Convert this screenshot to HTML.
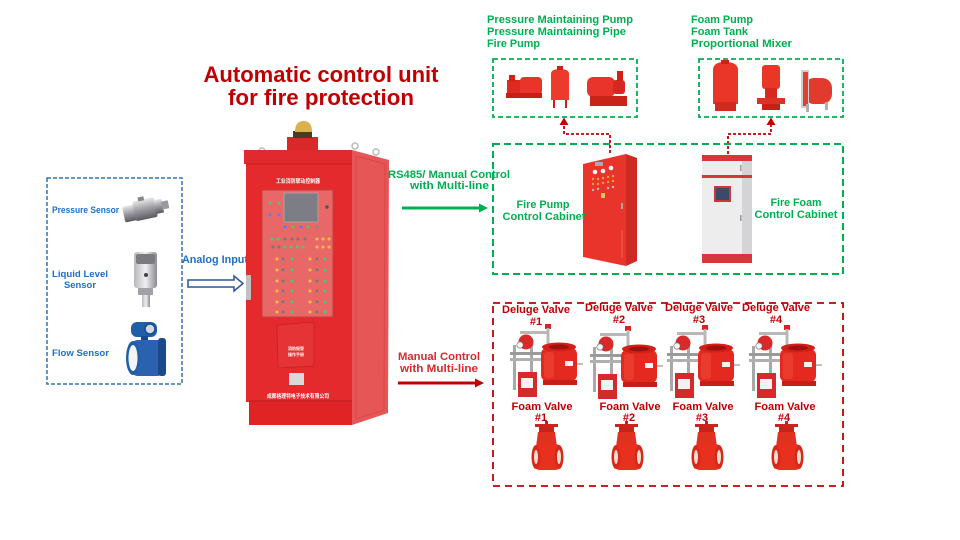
<!DOCTYPE html>
<html><head><meta charset="utf-8"><style>
html,body{margin:0;padding:0;background:#fff;}
svg{display:block;}
text{font-family:"Liberation Sans","Noto Sans CJK SC",sans-serif;font-weight:bold;}
</style></head><body>
<svg width="960" height="540" viewBox="0 0 960 540" xmlns="http://www.w3.org/2000/svg">
<defs>
  <linearGradient id="silver" x1="0" y1="0" x2="0" y2="1">
    <stop offset="0" stop-color="#e8e8ea"/><stop offset="0.5" stop-color="#9a9aa0"/><stop offset="1" stop-color="#5a5a60"/>
  </linearGradient>
  <linearGradient id="silverH" x1="0" y1="0" x2="1" y2="0">
    <stop offset="0" stop-color="#b8b8bc"/><stop offset="0.5" stop-color="#f0f0f2"/><stop offset="1" stop-color="#8a8a90"/>
  </linearGradient>
  <g id="deluge">
    <rect x="545" y="324" width="6" height="5" fill="#e02020"/>
    <rect x="546.5" y="328" width="3" height="21" fill="#b8b8b8"/>
    <rect x="520" y="331" width="28" height="3" fill="#b8b8b8"/>
    <rect x="513" y="345" width="3" height="45" fill="#a8a8a8"/>
    <rect x="530" y="345" width="3" height="30" fill="#a8a8a8"/>
    <circle cx="526" cy="342" r="7.5" fill="#d82a2a"/>
    <circle cx="520" cy="345" r="3.2" fill="#f4f4f4" stroke="#666" stroke-width="0.6"/>
    <rect x="510" y="352" width="31" height="3" fill="#9a9a9a"/>
    <rect x="510" y="358" width="31" height="3" fill="#b0b0b0"/>
    <rect x="518" y="372" width="19" height="25" fill="#d42a2a"/>
    <rect x="521" y="378" width="12" height="10" fill="#f2f2f2"/>
    <rect x="541" y="348" width="36" height="33" rx="6" fill="#e42a20"/>
    <rect x="544" y="352" width="10" height="26" rx="3" fill="#f04838" opacity="0.6"/>
    <ellipse cx="559" cy="347" rx="17" ry="4.5" fill="#d22018"/>
    <ellipse cx="559" cy="347" rx="10" ry="2.5" fill="#a01010"/>
    <rect x="543" y="380" width="34" height="5" fill="#c81e18"/>
    <rect x="565" y="361" width="8" height="5" fill="#f4f4f4"/>
    <rect x="577" y="363" width="6" height="2" fill="#c0c0c0"/>
  </g>
  <g id="foam">
    <rect x="545" y="421" width="3" height="4" fill="#c02020"/>
    <rect x="535" y="424" width="23" height="3" fill="#d02020"/>
    <rect x="539" y="427" width="15" height="5" fill="#c82418"/>
    <path d="M538 432 H555 L557 447 H536 Z" fill="#e03020"/>
    <rect x="533" y="444" width="29" height="26" rx="7" fill="#e8301f"/>
    <ellipse cx="536" cy="457" rx="4.5" ry="12" fill="#d82818"/>
    <ellipse cx="536" cy="457" rx="2" ry="7" fill="#f0dcd0"/>
    <ellipse cx="559" cy="457" rx="4.5" ry="12" fill="#d82818"/>
    <ellipse cx="559" cy="457" rx="2" ry="7" fill="#f0dcd0"/>
  </g>
</defs>

<!-- Title -->
<text x="321" y="82" font-size="22" fill="#c00000" text-anchor="middle" textLength="235" lengthAdjust="spacingAndGlyphs">Automatic control unit</text>
<text x="321" y="105" font-size="22" fill="#c00000" text-anchor="middle" textLength="186" lengthAdjust="spacingAndGlyphs">for fire protection</text>

<!-- Sensor box -->
<rect x="47" y="178" width="135" height="206" fill="none" stroke="#2e75b6" stroke-width="1.5" stroke-dasharray="4,2"/>
<text x="52" y="213" font-size="9" fill="#1f6fc4" textLength="67" lengthAdjust="spacingAndGlyphs">Pressure Sensor</text>
<text x="52" y="277" font-size="9.5" fill="#1f6fc4" textLength="56" lengthAdjust="spacingAndGlyphs">Liquid Level</text>
<text x="64" y="288" font-size="9.5" fill="#1f6fc4" textLength="32" lengthAdjust="spacingAndGlyphs">Sensor</text>
<text x="52" y="356" font-size="9.5" fill="#1f6fc4" textLength="57" lengthAdjust="spacingAndGlyphs">Flow Sensor</text>

<!-- pressure sensor -->
<g transform="rotate(-12 146 209)">
  <rect x="123" y="202" width="12" height="16" rx="2" fill="url(#silver)"/>
  <rect x="134" y="199" width="22" height="20" rx="2" fill="url(#silver)"/>
  <rect x="155" y="202" width="8" height="14" fill="url(#silver)"/>
  <rect x="162" y="205" width="7" height="8" fill="#9a9aa0"/>
  <rect x="140" y="196" width="6" height="4" fill="#888"/>
</g>
<!-- liquid level sensor -->
<rect x="134" y="252" width="23" height="36" rx="3" fill="url(#silverH)"/>
<rect x="136" y="254" width="19" height="10" rx="2" fill="#7a7a80"/>
<circle cx="146" cy="275" r="2" fill="#444"/>
<rect x="138" y="288" width="15" height="7" fill="#a0a0a6"/>
<rect x="142" y="295" width="8" height="12" fill="url(#silverH)"/>
<!-- flow sensor -->
<rect x="131" y="322" width="26" height="15" rx="6" fill="#1f5fa8"/>
<circle cx="150" cy="329" r="5" fill="#d0d8e0" stroke="#1a4a8a" stroke-width="1.5"/>
<rect x="141" y="336" width="7" height="6" fill="#1a4a8a"/>
<rect x="130" y="340" width="35" height="36" rx="8" fill="#2a62b0"/>
<rect x="158" y="338" width="8" height="38" rx="3" fill="#1a4a8a"/>
<ellipse cx="133" cy="358" rx="7" ry="17" fill="#1f5fa8"/>
<ellipse cx="133" cy="358" rx="4.5" ry="13" fill="#f4f4f4"/>

<!-- Analog input -->
<text x="182" y="263" font-size="11" fill="#1f6fc4" textLength="66" lengthAdjust="spacingAndGlyphs">Analog Input</text>
<polygon points="188,280 234,280 234,276 243,283.5 234,291 234,287 188,287" fill="#fff" stroke="#2f5597" stroke-width="1.5"/>

<!-- Main cabinet -->
<circle cx="262" cy="151" r="3" fill="none" stroke="#bbb" stroke-width="1.5"/>
<circle cx="355" cy="146" r="3" fill="none" stroke="#bbb" stroke-width="1.5"/>
<circle cx="376" cy="152" r="3" fill="none" stroke="#bbb" stroke-width="1.5"/>
<rect x="287" y="137" width="31" height="14" fill="#d82828"/>
<rect x="293" y="131" width="19" height="7" fill="#4a3a20"/>
<path d="M295 132 Q295 121 303.5 121 Q312 121 312 132 Z" fill="#d9b24a"/>
<path d="M352 150 L389 160 L388 413 L352 425 Z" fill="#e65656"/>
<path d="M356 156 L385 164 L384 410 L356 419 Z" fill="none" stroke="#d84848" stroke-width="1"/>
<rect x="246" y="150" width="106" height="252" fill="#e52a2e"/>
<rect x="244" y="150" width="108" height="14" fill="#e12a2d"/>
<line x1="246" y1="164" x2="352" y2="164" stroke="#c81e22" stroke-width="1"/>
<rect x="249" y="401" width="103" height="24" fill="#e02426"/>
<line x1="249" y1="401" x2="352" y2="401" stroke="#b81a1c" stroke-width="1"/>
<text x="298" y="183" font-size="5.5" fill="#fff" text-anchor="middle" textLength="44" lengthAdjust="spacingAndGlyphs">工业消防联动控制器</text>
<rect x="262" y="190" width="71" height="127" rx="2" fill="#e86868" stroke="#c84040" stroke-width="1"/>
<rect x="284" y="193" width="34" height="29" fill="#7d7d86" stroke="#aaa" stroke-width="0.8"/>
<circle cx="327" cy="207" r="1.8" fill="#555"/>
<g>
  <circle cx="270" cy="203" r="1.5" fill="#40d070"/><circle cx="279" cy="203" r="1.5" fill="#40d070"/>
  <circle cx="270" cy="215" r="1.5" fill="#4a80ff"/><circle cx="279" cy="215" r="1.5" fill="#4a80ff"/>
  <circle cx="285" cy="227" r="1.5" fill="#4a80ff"/><circle cx="293" cy="227" r="1.5" fill="#40d070"/><circle cx="301" cy="227" r="1.5" fill="#4a80ff"/><circle cx="308" cy="227" r="1.5" fill="#40d070"/><circle cx="317" cy="227" r="1.5" fill="#888"/>
  <circle cx="272" cy="239" r="1.5" fill="#40d070"/><circle cx="278" cy="239" r="1.5" fill="#40d070"/><circle cx="285" cy="239" r="1.5" fill="#777"/><circle cx="292" cy="239" r="1.5" fill="#777"/><circle cx="298" cy="239" r="1.5" fill="#777"/><circle cx="305" cy="239" r="1.5" fill="#777"/>
  <circle cx="317" cy="239" r="1.5" fill="#f0c040"/><circle cx="323" cy="239" r="1.5" fill="#f0c040"/><circle cx="329" cy="239" r="1.5" fill="#f0c040"/>
  <circle cx="273" cy="247" r="1.5" fill="#777"/><circle cx="279" cy="247" r="1.5" fill="#777"/><circle cx="285" cy="247" r="1.5" fill="#40d070"/><circle cx="291" cy="247" r="1.5" fill="#40d070"/><circle cx="297" cy="247" r="1.5" fill="#40d070"/><circle cx="303" cy="247" r="1.5" fill="#40d070"/>
  <circle cx="317" cy="247" r="1.5" fill="#f0c040"/><circle cx="323" cy="247" r="1.5" fill="#f0c040"/><circle cx="329" cy="247" r="1.5" fill="#f0c040"/>
</g>
<g id="ledrow">
  <circle cx="277" cy="259" r="1.5" fill="#f0c040"/><circle cx="283" cy="259" r="1.5" fill="#777"/><circle cx="292" cy="259" r="1.5" fill="#40d070"/>
  <circle cx="310" cy="259" r="1.5" fill="#f0c040"/><circle cx="317" cy="259" r="1.5" fill="#777"/><circle cx="325" cy="259" r="1.5" fill="#40d070"/>
</g>
<use href="#ledrow" y="11"/><use href="#ledrow" y="22"/><use href="#ledrow" y="32"/><use href="#ledrow" y="43"/><use href="#ledrow" y="53"/>
<rect x="246" y="275" width="5" height="25" rx="1" fill="#c0c0c0"/>
<path d="M277 325 L314 322 L314 366 L278 368 Z" fill="#e63436" stroke="#c82426" stroke-width="1"/>
<text x="296" y="350" font-size="4" fill="#fff" text-anchor="middle">消防报警</text>
<text x="296" y="356" font-size="4" fill="#fff" text-anchor="middle">操作手册</text>
<rect x="289" y="373" width="15" height="12" fill="#d9d9d9"/>
<text x="298" y="398" font-size="5.5" fill="#fff" text-anchor="middle" textLength="62" lengthAdjust="spacingAndGlyphs">成都格理特电子技术有限公司</text>

<!-- Green arrow + label -->
<text x="388" y="178" font-size="11" fill="#00b050" textLength="122" lengthAdjust="spacingAndGlyphs">RS485/ Manual Control</text>
<text x="410" y="189" font-size="11" fill="#00b050" textLength="79" lengthAdjust="spacingAndGlyphs">with Multi-line</text>
<line x1="402" y1="208" x2="481" y2="208" stroke="#00b050" stroke-width="3"/>
<polygon points="479,203.5 488,208 479,212.5" fill="#00b050"/>

<!-- Red arrow + label -->
<text x="398" y="360" font-size="11" fill="#d42b2b" textLength="82" lengthAdjust="spacingAndGlyphs">Manual Control</text>
<text x="400" y="372" font-size="11" fill="#d42b2b" textLength="78" lengthAdjust="spacingAndGlyphs">with Multi-line</text>
<line x1="398" y1="383" x2="477" y2="383" stroke="#c00000" stroke-width="3"/>
<polygon points="475,378.5 484,383 475,387.5" fill="#c00000"/>

<!-- Top green labels -->
<text x="487" y="23" font-size="11" fill="#00b050" textLength="146" lengthAdjust="spacingAndGlyphs">Pressure Maintaining Pump</text>
<text x="487" y="35" font-size="11" fill="#00b050" textLength="139" lengthAdjust="spacingAndGlyphs">Pressure Maintaining Pipe</text>
<text x="487" y="47" font-size="11" fill="#00b050" textLength="53" lengthAdjust="spacingAndGlyphs">Fire Pump</text>
<text x="691" y="23" font-size="11" fill="#00b050" textLength="62" lengthAdjust="spacingAndGlyphs">Foam Pump</text>
<text x="691" y="35" font-size="11" fill="#00b050" textLength="57" lengthAdjust="spacingAndGlyphs">Foam Tank</text>
<text x="691" y="47" font-size="11" fill="#00b050" textLength="101" lengthAdjust="spacingAndGlyphs">Proportional Mixer</text>

<!-- Top boxes -->
<rect x="493" y="59" width="144" height="58" fill="none" stroke="#00b050" stroke-width="1.8" stroke-dasharray="5,3"/>
<rect x="699" y="59" width="144" height="58" fill="none" stroke="#00b050" stroke-width="1.8" stroke-dasharray="5,3"/>
<!-- pumps box1 -->
<rect x="507" y="80" width="14" height="13" fill="#e02a20"/>
<rect x="509" y="75" width="6" height="6" fill="#d02018"/>
<rect x="520" y="77" width="22" height="18" rx="4" fill="#e8342a"/>
<rect x="506" y="93" width="36" height="5" fill="#c81e18"/>
<path d="M551 74 Q551 69 560 69 Q569 69 569 74 V100 H551 Z" fill="#ec3a2c"/>
<rect x="553" y="100" width="2" height="8" fill="#c82018"/><rect x="565" y="100" width="2" height="8" fill="#c82018"/>
<rect x="557" y="66" width="6" height="4" fill="#d02018"/>
<rect x="587" y="77" width="28" height="20" rx="6" fill="#e8342a"/>
<rect x="613" y="80" width="12" height="14" rx="3" fill="#d42820"/>
<rect x="617" y="71" width="6" height="10" fill="#d02018"/>
<rect x="590" y="96" width="37" height="10" fill="#c82418"/>
<!-- pumps box2 -->
<path d="M713 70 Q713 62 725 62 Q738 62 738 70 V104 H713 Z" fill="#ea3628"/>
<rect x="721" y="60" width="8" height="4" fill="#d02018"/>
<rect x="715" y="102" width="21" height="9" fill="#d42820"/>
<rect x="762" y="65" width="18" height="24" rx="3" fill="#ea3628"/>
<rect x="765" y="88" width="12" height="12" fill="#d42820"/>
<rect x="757" y="98" width="28" height="6" fill="#e03024"/>
<rect x="762" y="104" width="18" height="6" fill="#c82018"/>
<rect x="804" y="78" width="28" height="26" rx="10" fill="#e33a2e"/>
<rect x="801" y="70" width="8" height="38" fill="#cfcfcf"/>
<rect x="803" y="72" width="5" height="34" fill="#e04030"/>
<rect x="806" y="104" width="3" height="8" fill="#b0b0b0"/><rect x="825" y="102" width="3" height="8" fill="#b0b0b0"/>

<!-- red connectors -->
<path d="M610 153 V134 H564 V122" fill="none" stroke="#c00000" stroke-width="1.8" stroke-dasharray="3,2"/>
<polygon points="559.5,125 564,117.5 568.5,125" fill="#c00000"/>
<path d="M728 154 V134 H771 V122" fill="none" stroke="#c00000" stroke-width="1.8" stroke-dasharray="3,2"/>
<polygon points="766.5,125 771,117.5 775.5,125" fill="#c00000"/>

<!-- Green big box -->
<rect x="493" y="144" width="350" height="130" fill="none" stroke="#00b050" stroke-width="2" stroke-dasharray="7,4"/>

<!-- Fire pump cabinet -->
<path d="M626 154 L637 158 L637 261 L626 266 Z" fill="#cc2a22"/>
<path d="M583 164 L626 154 L626 266 L583 257 Z" fill="#e8342a"/>
<rect x="595" y="162" width="8" height="4" fill="#aaa"/>
<circle cx="595" cy="172" r="2.3" fill="#f4f4f4"/><circle cx="603" cy="171" r="2.3" fill="#f4f4f4"/><circle cx="611" cy="168" r="2.3" fill="#f4f4f4"/>
<g fill="#f0a040">
<circle cx="593" cy="179" r="1.2"/><circle cx="598" cy="179" r="1.2"/><circle cx="603" cy="178" r="1.2"/><circle cx="608" cy="177" r="1.2"/><circle cx="613" cy="176" r="1.2"/>
<circle cx="593" cy="184" r="1.2"/><circle cx="598" cy="184" r="1.2"/><circle cx="603" cy="183" r="1.2"/><circle cx="608" cy="182" r="1.2"/><circle cx="613" cy="181" r="1.2"/>
</g>
<g fill="#bbb"><circle cx="593" cy="190" r="1.2"/><circle cx="598" cy="189" r="1.2"/><circle cx="608" cy="188" r="1.2"/><circle cx="613" cy="187" r="1.2"/></g>
<rect x="601" y="193" width="4" height="5" fill="#f0c060"/>
<rect x="621" y="203" width="2" height="6" fill="#aaa"/>
<line x1="622" y1="230" x2="622" y2="258" stroke="#f06a5a" stroke-width="1"/>
<text x="543" y="208" font-size="11" fill="#00b050" text-anchor="middle" textLength="53" lengthAdjust="spacingAndGlyphs">Fire Pump</text>
<text x="544" y="220" font-size="11" fill="#00b050" text-anchor="middle" textLength="83" lengthAdjust="spacingAndGlyphs">Control Cabinet</text>

<!-- Foam cabinet -->
<rect x="742" y="157" width="10" height="104" fill="#d4d4d6"/>
<rect x="702" y="155" width="40" height="108" fill="#ededee"/>
<rect x="702" y="155" width="50" height="6" fill="#d9363c"/>
<rect x="702" y="175" width="50" height="3" fill="#d9363c"/>
<rect x="714" y="186" width="17" height="16" fill="#c8383c"/>
<rect x="716" y="188" width="13" height="12" fill="#3a4a6a"/>
<rect x="740" y="165" width="1.5" height="6" fill="#999"/>
<rect x="740" y="215" width="1.5" height="6" fill="#999"/>
<rect x="702" y="254" width="50" height="9" fill="#d9363c"/>
<text x="796" y="206" font-size="11" fill="#00b050" text-anchor="middle" textLength="51" lengthAdjust="spacingAndGlyphs">Fire Foam</text>
<text x="796" y="218" font-size="11" fill="#00b050" text-anchor="middle" textLength="83" lengthAdjust="spacingAndGlyphs">Control Cabinet</text>

<!-- Red box -->
<rect x="493" y="303" width="350" height="183" fill="none" stroke="#c00000" stroke-width="1.8" stroke-dasharray="7,5"/>

<!-- Deluge valves -->
<use href="#deluge"/>
<use href="#deluge" x="80" y="2"/>
<use href="#deluge" x="157" y="1"/>
<use href="#deluge" x="239" y="1"/>
<text x="536" y="313" font-size="11" fill="#c00000" text-anchor="middle" textLength="68" lengthAdjust="spacingAndGlyphs">Deluge Valve</text>
<text x="536" y="325" font-size="11" fill="#c00000" text-anchor="middle">#1</text>
<text x="619" y="311" font-size="11" fill="#c00000" text-anchor="middle" textLength="68" lengthAdjust="spacingAndGlyphs">Deluge Valve</text>
<text x="619" y="323" font-size="11" fill="#c00000" text-anchor="middle">#2</text>
<text x="699" y="311" font-size="11" fill="#c00000" text-anchor="middle" textLength="68" lengthAdjust="spacingAndGlyphs">Deluge Valve</text>
<text x="699" y="323" font-size="11" fill="#c00000" text-anchor="middle">#3</text>
<text x="776" y="311" font-size="11" fill="#c00000" text-anchor="middle" textLength="68" lengthAdjust="spacingAndGlyphs">Deluge Valve</text>
<text x="776" y="323" font-size="11" fill="#c00000" text-anchor="middle">#4</text>

<!-- Foam valves -->
<use href="#foam"/>
<use href="#foam" x="80"/>
<use href="#foam" x="160"/>
<use href="#foam" x="240"/>
<text x="542" y="410" font-size="11" fill="#c00000" text-anchor="middle" textLength="61" lengthAdjust="spacingAndGlyphs">Foam Valve</text>
<text x="541" y="421" font-size="11" fill="#c00000" text-anchor="middle">#1</text>
<text x="630" y="410" font-size="11" fill="#c00000" text-anchor="middle" textLength="61" lengthAdjust="spacingAndGlyphs">Foam Valve</text>
<text x="629" y="421" font-size="11" fill="#c00000" text-anchor="middle">#2</text>
<text x="703" y="410" font-size="11" fill="#c00000" text-anchor="middle" textLength="61" lengthAdjust="spacingAndGlyphs">Foam Valve</text>
<text x="702" y="421" font-size="11" fill="#c00000" text-anchor="middle">#3</text>
<text x="785" y="410" font-size="11" fill="#c00000" text-anchor="middle" textLength="61" lengthAdjust="spacingAndGlyphs">Foam Valve</text>
<text x="784" y="421" font-size="11" fill="#c00000" text-anchor="middle">#4</text>
</svg>
</body></html>
